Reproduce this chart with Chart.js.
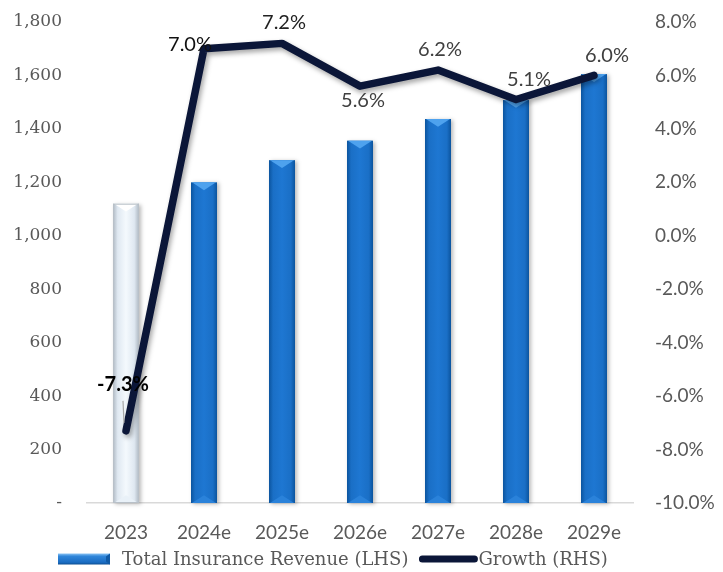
<!DOCTYPE html>
<html>
<head>
<meta charset="utf-8">
<script src="https://cdn.jsdelivr.net/npm/chart.js@4"></script>
<style>
  html, body { margin: 0; padding: 0; background: #ffffff; }
  #wrap { width: 723px; height: 572px; }
</style>
</head>
<body>
<div id="wrap"><canvas id="c" width="723" height="572"></canvas></div>
<script>
// Categories and series
const years = ['2023', '2024e', '2025e', '2026e', '2027e', '2028e', '2029e'];
const revenue = [1120, 1200, 1283, 1356, 1437, 1508, 1605];
const growth = [-7.3, 7.0, 7.2, 5.6, 6.2, 5.1, 6.0];

// Axis ticks
const leftTicks = [0, 200, 400, 600, 800, 1000, 1200, 1400, 1600, 1800];
const rightTicks = [-10, -8, -6, -4, -2, 0, 2, 4, 6, 8];

// Series names
const seriesNames = ['Total Insurance Revenue (LHS)', 'Growth (RHS)'];

// Where each growth label sits relative to its point
const labelPlacement = ['leader', 'left', 'above', 'below', 'above', 'aboveRight', 'aboveRight'];
const labelColors = ['#000000', '#111111', '#222222', '#404040', '#404040', '#404040', '#404040'];

const SANS = 'Lato, "Open Sans", sans-serif';
const SERIF = '"DejaVu Serif", serif';
const NAVY = '#0b1638';

function bevelBar(ctx, x, top, base, w, actual) {
  const l = x - w / 2, r = x + w / 2, h = base - top;
  const g = ctx.createLinearGradient(l, 0, r, 0);
  if (actual) {
    g.addColorStop(0, '#aeb8c2');
    g.addColorStop(0.18, '#dfe8f1');
    g.addColorStop(0.5, '#f4f9fd');
    g.addColorStop(0.82, '#dfe8f1');
    g.addColorStop(1, '#aeb8c2');
  } else {
    g.addColorStop(0, '#0b549e');
    g.addColorStop(0.16, '#1a6fc6');
    g.addColorStop(0.5, '#1e77d2');
    g.addColorStop(0.84, '#1a6fc6');
    g.addColorStop(1, '#0b549e');
  }
  ctx.save();
  ctx.shadowColor = 'rgba(0,0,0,0.28)';
  ctx.shadowBlur = 4;
  ctx.shadowOffsetX = 2;
  ctx.shadowOffsetY = 1;
  ctx.fillStyle = g;
  ctx.fillRect(l, top, w, h);
  ctx.restore();
  const tri = Math.min(w * 0.3, h / 2);
  // top bevel
  ctx.beginPath();
  ctx.moveTo(l + 1, top);
  ctx.lineTo(r - 1, top);
  ctx.lineTo(x, top + tri);
  ctx.closePath();
  ctx.fillStyle = actual ? '#ffffff' : '#4ea2ee';
  ctx.fill();
  // bottom bevel
  ctx.beginPath();
  ctx.moveTo(l + 1, base);
  ctx.lineTo(r - 1, base);
  ctx.lineTo(x, base - tri);
  ctx.closePath();
  ctx.fillStyle = actual ? '#e9f1f8' : '#2a82da';
  ctx.fill();
  if (actual) {
    ctx.strokeStyle = '#b8c0c8';
    ctx.lineWidth = 1;
    ctx.strokeRect(l + 0.5, top + 0.5, w - 1, h - 1);
  }
}

// Bars with a bevelled look, drawn from the bar elements' own geometry
const bevelPlugin = {
  id: 'bevelBars',
  afterDatasetDraw(chart, args) {
    if (args.index !== 0) return;
    const ctx = chart.ctx;
    const meta = chart.getDatasetMeta(0);
    ctx.save();
    meta.data.forEach((bar, i) => {
      const p = bar.getProps(['x', 'y', 'base', 'width'], true);
      bevelBar(ctx, p.x, p.y, p.base, p.width, i === 0);
    });
    ctx.restore();
  }
};

// Soft shadow under the growth line
const lineShadow = {
  id: 'lineShadow',
  beforeDatasetDraw(chart, args) {
    if (args.index !== 1) return;
    const ctx = chart.ctx;
    ctx.save();
    ctx.shadowColor = 'rgba(0,0,0,0.35)';
    ctx.shadowBlur = 5;
    ctx.shadowOffsetX = 2;
    ctx.shadowOffsetY = 3;
  },
  afterDatasetDraw(chart, args) {
    if (args.index !== 1) return;
    chart.ctx.restore();
  }
};

// Percentage labels next to each growth point
const growthLabels = {
  id: 'growthLabels',
  afterDatasetsDraw(chart) {
    const ctx = chart.ctx;
    const meta = chart.getDatasetMeta(1);
    ctx.save();
    ctx.textAlign = 'center';
    ctx.textBaseline = 'middle';
    meta.data.forEach((pt, i) => {
      const text = growth[i].toFixed(1) + '%';
      let dx = 0, dy = -22;
      switch (labelPlacement[i]) {
        case 'leader': dx = -3; dy = -46; break;
        case 'left': dx = -14; dy = -4; break;
        case 'above': dx = 2; dy = -21; break;
        case 'below': dx = 3; dy = 14; break;
        case 'aboveRight': dx = 13; dy = -20; break;
      }
      if (labelPlacement[i] === 'leader') {
        ctx.strokeStyle = '#a6a6a6';
        ctx.lineWidth = 1.2;
        ctx.beginPath();
        ctx.moveTo(pt.x - 3, pt.y - 30);
        ctx.lineTo(pt.x - 2, pt.y - 8);
        ctx.stroke();
        ctx.font = 'bold 20px ' + SANS;
      } else {
        ctx.font = '20px ' + SANS;
      }
      ctx.fillStyle = labelColors[i];
      ctx.fillText(text, pt.x + dx, pt.y + dy);
    });
    ctx.restore();
  }
};

// Legend row beneath the category labels
const bottomLegend = {
  id: 'bottomLegend',
  afterDraw(chart) {
    const ctx = chart.ctx;
    const y = 559;
    ctx.save();
    ctx.font = '18px ' + SERIF;
    ctx.fillStyle = '#595959';
    ctx.textBaseline = 'middle';
    ctx.textAlign = 'left';
    // bar swatch
    const bx = 58, bw = 52, bh = 11;
    const g = ctx.createLinearGradient(0, y - bh / 2, 0, y + bh / 2);
    g.addColorStop(0, '#8cc4f4');
    g.addColorStop(0.25, '#2f86da');
    g.addColorStop(0.8, '#1a6cc2');
    g.addColorStop(1, '#0d4f92');
    ctx.fillStyle = g;
    ctx.fillRect(bx, y - bh / 2, bw, bh);
    ctx.fillStyle = '#0f5aa6';
    ctx.beginPath();
    ctx.moveTo(bx + bw, y - bh / 2);
    ctx.lineTo(bx + bw - 4, y - bh / 2 + 3);
    ctx.lineTo(bx + bw - 4, y + bh / 2 - 3);
    ctx.lineTo(bx + bw, y + bh / 2);
    ctx.fill();
    ctx.fillStyle = '#595959';
    const t1x = 122;
    ctx.fillText(seriesNames[0], t1x, y + 1);
    const t1w = ctx.measureText(seriesNames[0]).width;
    // line swatch
    const lx = t1x + t1w + 11;
    ctx.strokeStyle = NAVY;
    ctx.lineWidth = 7;
    ctx.lineCap = 'round';
    ctx.beginPath();
    ctx.moveTo(lx + 3, y);
    ctx.lineTo(lx + 55, y);
    ctx.stroke();
    ctx.fillText(seriesNames[1], lx + 59, y + 1);
    ctx.restore();
  }
};

// Fixed axis box sizes so the plot area lines up with the tick labels
function fixVertical(width) {
  return s => {
    s.width = width;
    s.paddingTop = 0;
    s.paddingBottom = 0;
  };
}

new Chart(document.getElementById('c'), {
  data: {
    labels: years,
    datasets: [
      {
        type: 'bar',
        label: seriesNames[0],
        data: revenue,
        yAxisID: 'yL',
        backgroundColor: 'rgba(0,0,0,0)',
        barPercentage: 1 / 3,
        categoryPercentage: 1,
        order: 2
      },
      {
        type: 'line',
        label: seriesNames[1],
        data: growth,
        yAxisID: 'yR',
        borderColor: NAVY,
        borderWidth: 7.5,
        borderCapStyle: 'round',
        borderJoinStyle: 'round',
        pointRadius: 0,
        tension: 0,
        order: 1
      }
    ]
  },
  options: {
    responsive: false,
    animation: false,
    layout: { padding: { top: 22, left: 0, right: 0, bottom: 0 } },
    plugins: {
      legend: { display: false },
      tooltip: { enabled: false }
    },
    scales: {
      x: {
        type: 'category',
        offset: true,
        grid: { display: false, drawTicks: false },
        border: { display: true, color: '#d9d9d9', width: 1.5 },
        ticks: { color: '#595959', font: { family: SANS, size: 19 }, padding: 18 },
        afterFit(s) { s.height = 69; s.paddingLeft = 0; s.paddingRight = 0; }
      },
      yL: {
        type: 'linear',
        position: 'left',
        min: 0,
        max: 1800,
        afterBuildTicks(s) { s.ticks = leftTicks.map(v => ({ value: v })); },
        grid: { display: false, drawTicks: false },
        border: { display: false },
        ticks: {
          color: '#595959',
          font: { family: SERIF, size: 17 },
          padding: 25,
          callback: v => (v === 0 ? '-' : v.toLocaleString('en-US'))
        },
        afterFit: fixVertical(87)
      },
      yR: {
        type: 'linear',
        position: 'right',
        min: -10,
        max: 8,
        afterBuildTicks(s) { s.ticks = rightTicks.map(v => ({ value: v })); },
        grid: { display: false, drawTicks: false },
        border: { display: false },
        ticks: {
          color: '#595959',
          font: { family: SANS, size: 19 },
          padding: 22,
          callback: v => v.toFixed(1) + '%'
        },
        afterFit: fixVertical(90)
      }
    }
  },
  plugins: [bevelPlugin, lineShadow, growthLabels, bottomLegend]
});
</script>
</body>
</html>
